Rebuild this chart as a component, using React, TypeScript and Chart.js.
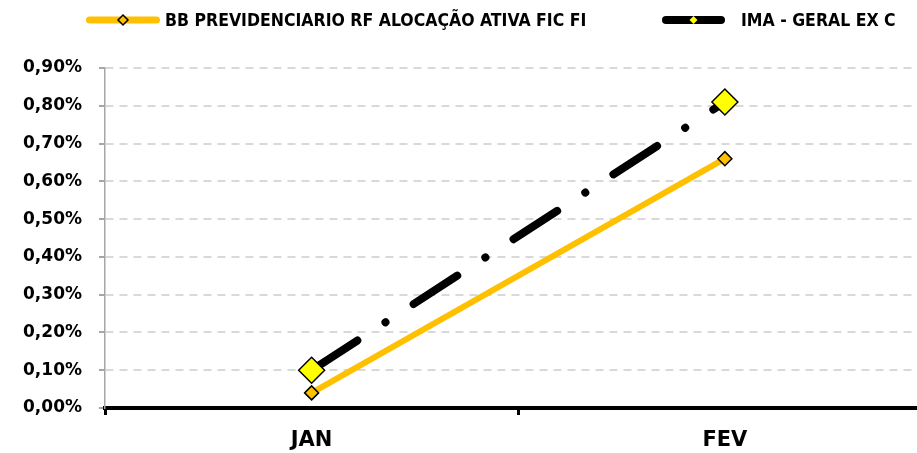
import React, { useEffect, useRef } from "react";
import { Chart, registerables } from "chart.js";

Chart.register(...registerables);

const categories = ["JAN", "FEV"];
const bbValues = [0.04, 0.66];
const imaValues = [0.1, 0.81];
const seriesNames = ["BB PREVIDENCIARIO RF ALOCAÇÃO ATIVA FIC FI", "IMA - GERAL EX C"];
const yTicks = [0, 0.1, 0.2, 0.3, 0.4, 0.5, 0.6, 0.7, 0.8, 0.9];

const GOLD = "#FFC000";
const YELLOW = "#FFFF00";
const CW = 946;
const CH = 453;

const legendPlugin = {
  id: "customLegend",
  afterDraw(chart: any) {
    const ctx = chart.ctx;
    const y = 20;
    const items = [
      { x1: 86, x2: 160, lw: 7, color: GOLD, fill: GOLD, stroke: true, tx: 165, text: seriesNames[0] },
      { x1: 662, x2: 725, lw: 8, color: "#000", fill: YELLOW, stroke: false, tx: 741, text: seriesNames[1] },
    ];
    ctx.save();
    for (const it of items) {
      ctx.beginPath();
      ctx.lineCap = "round";
      ctx.lineWidth = it.lw;
      ctx.strokeStyle = it.color;
      ctx.moveTo(it.x1 + it.lw / 2, y);
      ctx.lineTo(it.x2 - it.lw / 2, y);
      ctx.stroke();
      const cx = (it.x1 + it.x2) / 2;
      const r = it.stroke ? 5 : 4;
      ctx.beginPath();
      ctx.moveTo(cx, y - r);
      ctx.lineTo(cx + r, y);
      ctx.lineTo(cx, y + r);
      ctx.lineTo(cx - r, y);
      ctx.closePath();
      ctx.fillStyle = it.fill;
      ctx.fill();
      if (it.stroke) {
        ctx.lineWidth = 1.5;
        ctx.strokeStyle = "#000";
        ctx.stroke();
      }
      ctx.fillStyle = "#000";
      ctx.font = "bold 17.5px 'DejaVu Sans Condensed', 'DejaVu Sans'";
      ctx.textBaseline = "middle";
      ctx.textAlign = "left";
      ctx.fillText(it.text, it.tx, y + 1);
    }
    ctx.restore();
  },
};

export default function App() {
  const ref = useRef<HTMLCanvasElement>(null);
  useEffect(() => {
    if (!ref.current) return;
    const chart = new Chart(ref.current, {
      type: "line",
      data: {
        labels: categories,
        datasets: [
          {
            label: seriesNames[0],
            data: bbValues,
            borderColor: GOLD,
            borderWidth: 6,
            pointStyle: "rectRot",
            pointRadius: 7,
            pointBackgroundColor: GOLD,
            pointBorderColor: "#000",
            pointBorderWidth: 1.5,
            order: 1,
          },
          {
            label: seriesNames[1],
            data: imaValues,
            borderColor: "#000",
            borderWidth: 8,
            borderCapStyle: "round",
            borderDash: [52, 33.5, 0.1, 33.5],
            borderDashOffset: -2.5,
            pointStyle: "rectRot",
            pointRadius: 13,
            pointBackgroundColor: YELLOW,
            pointBorderColor: "#000",
            pointBorderWidth: 1.5,
            order: 2,
          },
        ],
      },
      options: {
        animation: false,
        responsive: false,
        maintainAspectRatio: false,
        devicePixelRatio: 1,
        layout: { padding: { top: 68, left: 0, right: 0, bottom: 0 } },
        plugins: { legend: { display: false }, tooltip: { enabled: false } },
        elements: { line: { tension: 0 } },
        scales: {
          x: {
            offset: true,
            grid: {
              offset: true,
              drawOnChartArea: false,
              drawTicks: true,
              tickLength: 7,
              color: "#000",
              lineWidth: 3,
            },
            border: { display: true, color: "#000", width: 4 },
            ticks: {
              color: "#000",
              font: { family: "'DejaVu Sans'", size: 21, weight: "bold" },
              padding: 13,
            },
            afterFit: (s: any) => {
              s.height = CH - 408;
            },
          },
          y: {
            min: 0,
            max: 0.9,
            afterBuildTicks: (s: any) => {
              s.ticks = yTicks.map((v) => ({ value: v }));
            },
            grid: {
              color: "#d9d9d9",
              lineWidth: 2,
              tickLength: 6,
              tickColor: "#a6a6a6",
            },
            border: { display: true, color: "#a6a6a6", width: 1.5, dash: [8, 6] },
            ticks: {
              color: "#000",
              padding: 17,
              font: { family: "'DejaVu Sans'", size: 17, weight: "bold" },
              callback: (v: any) => Number(v).toFixed(2).replace(".", ",") + "%",
            },
            afterFit: (s: any) => {
              s.width = 105;
            },
          },
        },
      } as any,
      plugins: [legendPlugin],
    });
    return () => chart.destroy();
  }, []);
  return (
    <div style={{ position: "absolute", left: 0, top: 0, width: 917, height: CH, overflow: "hidden", background: "#fff" }}>
      <canvas ref={ref} width={CW} height={CH} style={{ display: "block", width: CW, height: CH }} />
    </div>
  );
}
